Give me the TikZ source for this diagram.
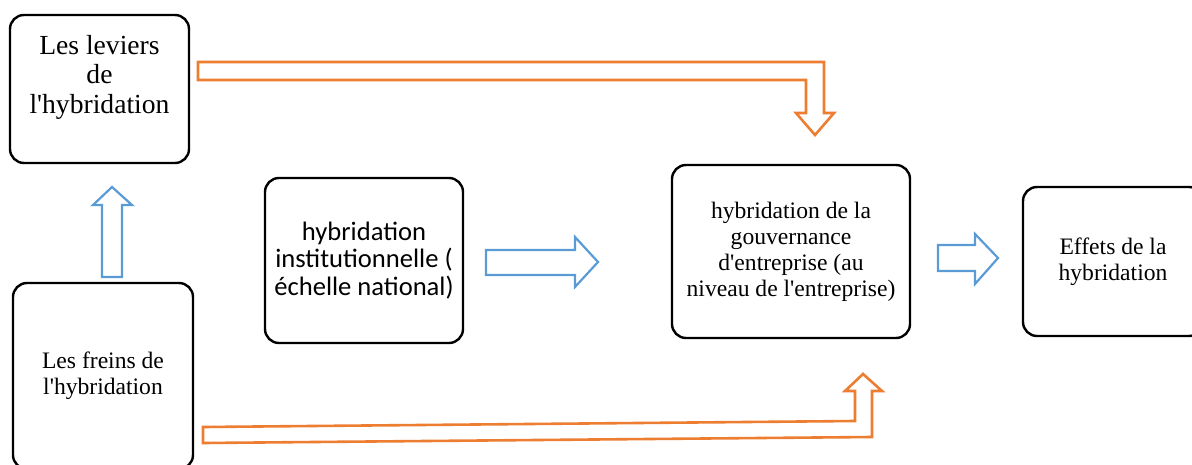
\documentclass[tikz,border=0pt]{standalone}
\usepackage{fontspec}
\setmainfont{Liberation Serif}
\newfontfamily\calib{Carlito}
\usepackage{tikz}
\definecolor{arrowblue}{RGB}{91,155,213}
\definecolor{arroworange}{RGB}{237,125,49}
\newcommand{\ap}{\textquotesingle}

\begin{document}
\begin{tikzpicture}[x=0.5pt,y=-0.5pt,
    blok/.style={draw,rounded corners=7pt,line width=1.2pt,align=center,inner sep=0pt,
      font=\fontsize{11.8}{13}\selectfont},
    bluearrow/.style={draw=arrowblue,line width=1.1pt,line join=miter},
    orangearrow/.style={draw=arroworange,line width=1.3pt,line join=miter}]
                \clip (0,0) rectangle (1192,465);
                % Boxes
                \node[blok,minimum width=89.5pt,minimum height=74pt,font=\fontsize{13.8}{14.75}\selectfont]
                    (leviers) at (99.5,89) {Les leviers\\de\\l\ap hybridation\\ };
                \node[blok,minimum width=90pt,minimum height=93pt] (freins) at (103,376)
                    {Les freins de\\l\ap hybridation};
                \node[blok,minimum width=99pt,minimum height=82.5pt,font=\calib\fontsize{13.3}{13.75}\selectfont]
                    (instit) at (364,260.5) {hybridation\\institutionnelle (\\échelle national)};
                \node[blok,minimum width=119pt,minimum height=86.5pt] (gouv) at (791,251.5)
                    {hybridation de la\\gouvernance\\d\ap entreprise (au\\niveau de l\ap entreprise)};
                \node[blok,minimum width=90pt,minimum height=74.5pt] (effets) at (1113,261.5)
                    {Effets de la\\hybridation};
                % Blue block arrows
                \draw[bluearrow] (102,277) -- (102,205) -- (93,205) -- (112,187) -- (132,205)
                    -- (122,205) -- (122,277) -- cycle;
                \draw[bluearrow] (486,250) -- (575,250) -- (575,237) -- (598,262) -- (575,287)
                    -- (575,275) -- (486,275) -- cycle;
                \draw[bluearrow] (938,245) -- (975,245) -- (975,234) -- (998,258) -- (975,284)
                    -- (975,271) -- (938,271) -- cycle;
                % Orange bent arrows
                \draw[orangearrow] (198,62) -- (824,62) -- (824,113) -- (834,113) -- (815,135)
                    -- (796,113) -- (806,113) -- (806,80) -- (198,80) -- cycle;
                \draw[orangearrow] (203,427) -- (855,421) -- (855,391) -- (845,391) -- (863,374)
                    -- (882,391) -- (872,391) -- (872,437) -- (203,443) -- cycle;
            \end{tikzpicture}
\end{document}
